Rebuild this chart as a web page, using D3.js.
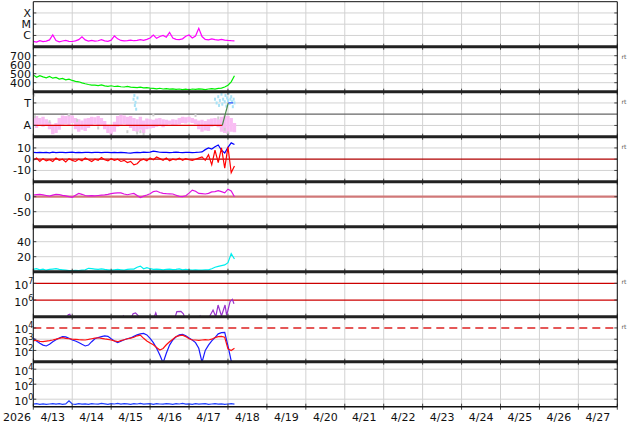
<!DOCTYPE html>
<html>
<head>
<meta charset="utf-8">
<style>
  body { margin: 0; background: #fff; }
  text { font-family: "DejaVu Sans", sans-serif; }
  .lbl { font-size: 11px; fill: #111; }
  .grid { stroke: #d2d2d2; stroke-width: 1; fill: none; }
  .sep { stroke: #222; stroke-width: 3; }
  .edge { stroke: #111; stroke-width: 1; }
  .tick { stroke: #444; stroke-width: 1; }
  .rt { font-size: 6px; fill: #555; }
  .series { fill: none; stroke-width: 1.2; }
</style>
</head>
<body>
<script src="https://cdn.jsdelivr.net/npm/d3@7"></script>
<script>
// samples every 2 h from 2026-04-13 00:00 UT
var startUT = Date.UTC(2026, 3, 13), stepH = 2;

// x-ray flux (W/m2)
var xray = [3.0e-7, 2.6e-7, 3.4e-7, 2.8e-7, 3.1e-7, 4.0e-7, 1.1e-6, 3.5e-7, 2.7e-7, 3.2e-7,
            3.6e-7, 3.0e-7, 2.9e-7, 3.3e-7, 4.2e-7, 7.5e-7, 4.0e-7, 3.2e-7, 3.6e-7, 3.1e-7,
            3.4e-7, 4.3e-7, 3.3e-7, 3.0e-7, 3.8e-7, 9.0e-7, 5.0e-7, 3.6e-7, 3.3e-7, 3.5e-7,
            3.9e-7, 3.4e-7, 3.6e-7, 4.2e-7, 3.7e-7, 4.5e-7, 6.0e-7, 1.1e-6, 5.5e-7, 8.0e-7,
            1.0e-6, 7.0e-7, 1.9e-6, 6.0e-7, 4.5e-7, 4.2e-7, 5.0e-7, 8.5e-7, 1.1e-6, 6.0e-7,
            9.0e-7, 4.3e-6, 8.0e-7, 4.5e-7, 4.0e-7, 5.0e-7, 4.2e-7, 3.8e-7, 4.4e-7, 3.9e-7,
            3.6e-7, 3.4e-7, 3.3e-7];

// solar wind speed (km/s)
var speed = [485, 460, 478, 465, 455, 470, 450, 458, 440, 448,
             432, 440, 425, 415, 410, 398, 388, 380, 374, 372,
             368, 376, 364, 360, 366, 358, 362, 355, 352, 358,
             350, 348, 345, 350, 342, 345, 340, 336, 332, 338,
             330, 334, 328, 332, 325, 330, 324, 328, 322, 330,
             326, 332, 328, 324, 330, 334, 328, 336, 340, 352,
             372, 410, 478];

// IMF phi angle spread (deg)
var phiLo = [85, 70, 95, 80, 90, 60, 20, 30, 55, 95,
             100, 85, 110, 60, 40, 55, 45, 70, 90, 100,
             85, 95, 60, 30, 15, 40, 80, 95, 100, 85,
             70, 45, 40, 55, 30, 60, 65, 70, 80, 85,
             75, 95, 100, 90, 95, 100, 110, 105, 115, 110,
             100, 60, 40, 50, 45, 80, 85, 75, 40, 30,
             20, 40, 35];
var phiHi = [155, 165, 150, 160, 140, 120, 95, 110, 150, 170,
             165, 175, 170, 150, 140, 130, 145, 150, 160, 155,
             165, 150, 125, 95, 90, 120, 165, 175, 170, 160,
             165, 150, 140, 160, 130, 145, 140, 135, 145, 150,
             140, 135, 130, 140, 135, 150, 160, 155, 160, 150,
             140, 130, 135, 125, 140, 145, 150, 140, 160, 170,
             165, 150, 110];
// toward-sector points (hours, deg)
var towardHours = [61.8, 62.3, 62.6, 63.0, 63.4, 64.2, 112, 113, 114, 114.5, 115, 116, 116.5, 117,
                   118, 118.5, 119, 119.5, 120, 120.5, 121, 121.5, 122, 122.5, 123, 123.5, 124];
var towardPhi = [300, 330, 250, 275, 220, 310, 300, 270, 320, 250, 290, 340, 260, 300,
                 280, 330, 245, 310, 290, 350, 265, 300, 320, 280, 240, 300, 270];
// flagged points
var flagHours = [0.5, 1, 10, 22, 27, 40, 58, 64, 66, 68, 74, 100, 114, 118, 120];
var flagPhi = [333, 160, 120, 175, 130, 70, 40, 30, 40, 20, 175, 170, 150, 60, 30];
// sector line
var sectorHours = [0, 116.5, 120.2, 123.2];
var sectorPhi = [90, 90, 270, 270];

// IMF Bt and Bz (nT)
var bt = [6.0, 5.8, 6.1, 5.9, 6.0, 5.7, 6.2, 5.9, 6.1, 6.0,
          5.8, 6.0, 6.2, 5.9, 6.0, 5.8, 6.1, 6.0, 5.9, 6.1,
          6.0, 5.8, 6.0, 6.1, 5.9, 6.0, 5.8, 6.0, 5.9, 5.6,
          5.4, 5.8, 6.0, 5.9, 6.2, 6.0, 6.3, 7.2, 6.8, 6.2,
          6.0, 6.1, 5.9, 6.0, 6.2, 6.0, 5.9, 6.1, 6.0, 5.9,
          6.0, 6.2, 6.5, 8.5, 10.0, 9.0, 11.0, 12.6, 8.0, 5.5,
          10.5, 14.5, 13.0];
var bz = [-1, 1, -2, 0.5, -1.5, -0.5, -2, 1, -1, 0,
          -2.5, 0.5, -1, -2, 0, -1.5, 1, -0.5, -2, 0,
          -1, 1.5, -0.5, -1.5, 0.5, -1, 0, -2, -1, -3,
          -2, -5, -4, -1, 0, -1.5, 1, -0.5, 2, 0.5,
          -1, 1, -1.5, 0, -0.5, 1, -1, 0.5, -0.5, -1,
          0, 1, 2, -1, 4, -5, 8, -3, 10, -8,
          11, -12, -6];

// Dst-like index (nT)
var dst = [5.7, 7, 8, 6, 4, 2, 5, 8, 7, 4.5,
           3, 0, -2, 5, 11, 8, 4, 3, 3.5, 3,
           4, 5, 6, 8, 10.5, 12, 13, 12.5, 9, 6.5,
           9, 11, 4, -3, 2, 5.5, 10, 17, 19, 14,
           11, 10, 9.5, 9, 5, 1, 0, 3, 12, 22,
           18, 11, 10, 9, 11, 16, 17, 20, 17, 13,
           25, 19, 0];

// density (p/cc)
var dens = [3, 4, 2.5, 3.5, 2, 3, 3.5, 4, 3, 2.5,
            2, 1.5, 1.5, 1.8, 1.5, 2, 2.5, 4.5, 4, 3.5,
            3, 3.8, 3, 2.5, 2, 2.5, 3, 2.5, 2, 3,
            3.5, 3.5, 6, 7.5, 4, 5.5, 4, 3, 3.5, 3,
            2.5, 3, 3.5, 2.8, 3, 3.8, 2.5, 3, 2.5, 2,
            2.5, 2, 2, 2.5, 2.5, 4, 6, 7, 8, 9,
            12, 24, 17];

// electron flux (own sample times, hours)
var elecHours = [0, 1.5, 4, 20, 21.5, 22.5, 24, 54, 55.5, 57, 60, 61.5, 63, 64.5, 66, 74, 75.5, 77,
                 87, 88.5, 91, 92.5, 94, 101.5, 102.8, 104, 108, 110.8, 112.5, 113.9, 116, 118.2,
                 119.2, 121.3, 122.7, 123.7];
var elecFlux = [1.1e5, 8e4, 5e4, 5e4, 1.3e5, 1.4e5, 6e4, 6e4, 1.1e5, 6e4, 7e4, 1.5e5, 1.7e5, 1.2e5, 6e4, 7e4, 1.7e5, 6e4,
                7e4, 2e5, 2.1e5, 1.5e5, 6e4, 7e4, 1.1e5, 6e4, 8e4, 2.5e5, 1e5, 5e5, 1.1e5, 5e5,
                1.2e5, 8e5, 1.1e6, 6e5];

// magnetometer red and blue series
var hpRed = [740, 800, 650, 600, 680, 750, 850, 1000, 1200, 1350,
             1200, 1100, 1000, 950, 900, 880, 850, 950, 1100, 1250,
             1350, 1200, 1050, 950, 850, 700, 600, 750, 900, 1100,
             1250, 1500, 2000, 2300, 1200, 700, 450, 320, 180, 110,
             150, 320, 600, 1000, 1700, 2100, 2300, 1700, 1100, 850,
             850, 800, 850, 900, 850, 1000, 1400, 1700, 1800, 1500,
             140, 100, 155];
var hpBlue = [1200, 700, 440, 300, 250, 350, 600, 900, 1300, 1700,
              1600, 1200, 850, 700, 500, 350, 250, 300, 600, 1100,
              1400, 1700, 2000, 1800, 1100, 700, 490, 650, 900, 1100,
              1300, 1800, 2400, 3000, 3300, 2400, 1200, 500, 155, 40,
              8, 56, 300, 850, 1600, 2400, 2700, 2000, 1300, 850,
              500, 155, 9, 100, 300, 700, 1400, 3000, 3800, 4000,
              260, 12, 7];

// proton flux
var proton = [0.22, 0.25, 0.21, 0.24, 0.2, 0.23, 0.26, 0.22, 0.25, 0.21,
              0.24, 0.6, 0.23, 0.2, 0.25, 0.22, 0.24, 0.21, 0.26, 0.23,
              0.22, 0.27, 0.24, 0.21, 0.25, 0.23, 0.28, 0.22, 0.26, 0.24,
              0.21, 0.25, 0.23, 0.27, 0.22, 0.24, 0.26, 0.21, 0.25, 0.23,
              0.22, 0.26, 0.24, 0.21, 0.25, 0.23, 0.27, 0.22, 0.24, 0.21,
              0.25, 0.22, 0.24, 0.26, 0.21, 0.23, 0.25, 0.22, 0.24, 0.21,
              0.23, 0.25, 0.22];

var dayLabels = ["4/13", "4/14", "4/15", "4/16", "4/17", "4/18", "4/19", "4/20",
                 "4/21", "4/22", "4/23", "4/24", "4/25", "4/26", "4/27"];

var W = 634, H = 424;
var x0 = 33.3, x1 = 617.3, plotTop = 1.7, ph = 45;

var svg = d3.select("body").append("svg")
    .attr("width", W)
    .attr("height", H);

var x = d3.scaleUtc()
    .domain([new Date(startUT), new Date(Date.UTC(2026, 3, 28))])
    .range([x0, x1]);

function hr(h) { return new Date(startUT + h * 3600e3); }
function idxTime(i) { return hr(i * stepH); }

// panel definitions
var panels = [
  {y: d3.scaleLog().domain([1e-7, 1e-3]), ticks: [[1e-4, "X"], [1e-5, "M"], [1e-6, "C"]], grid: [1e-6, 1e-5, 1e-4]},
  {y: d3.scaleLinear().domain([300, 800]), ticks: [[700, "700"], [600, "600"], [500, "500"], [400, "400"]], grid: [400, 500, 600, 700], rt: true},
  {y: d3.scaleLinear().domain([0, 360]), ticks: [[270, "T"], [90, "A"]], grid: [90, 270], rt: true},
  {y: d3.scaleLinear().domain([-20, 20]), ticks: [[10, "10"], [0, "0"], [-10, "-10"]], grid: [-10, 10], rt: true},
  {y: d3.scaleLinear().domain([-100, 50]), ticks: [[0, "0"], [-50, "-50"]], grid: [-50]},
  {y: d3.scaleLinear().domain([0, 60]), ticks: [[40, "40"], [20, "20"]], grid: [20, 40]},
  {y: d3.scaleLog().domain([1e5, Math.pow(10, 7.7)]), ticks: [[1e7, "7"], [1e6, "6"]], grid: [], sup: true, rt: true},
  {y: d3.scaleLog().domain([1e1, 1e5]), ticks: [[1e4, "4"], [1e3, "3"], [1e2, "2"]], grid: [1e2, 1e3], sup: true, rt: true},
  {y: d3.scaleLog().domain([1e-1, 1e5]), ticks: [[1e4, "4"], [1e2, "2"], [1e0, "0"]], grid: [1, 1e2, 1e4], sup: true}
];

var defs = svg.append("defs");
panels.forEach(function(p, k) {
  p.top = plotTop + k * ph;
  p.bot = p.top + ph;
  p.y.range([p.bot, p.top]);
  defs.append("clipPath").attr("id", "clip" + k)
    .append("rect").attr("x", x0).attr("y", p.top).attr("width", x1 - x0).attr("height", ph);
  p.g = svg.append("g").attr("clip-path", "url(#clip" + k + ")");
});

// vertical day grid
var days = x.ticks(d3.utcDay.every(1));
svg.insert("g", ":first-child").selectAll("line").data(days).enter().append("line")
  .attr("class", "grid")
  .attr("x1", function(d) { return x(d); }).attr("x2", function(d) { return x(d); })
  .attr("y1", plotTop).attr("y2", plotTop + 9 * ph);

// horizontal grid, labels, ticks
panels.forEach(function(p, k) {
  p.grid.forEach(function(v) {
    p.g.append("line").attr("class", "grid")
      .attr("x1", x0).attr("x2", x1).attr("y1", p.y(v)).attr("y2", p.y(v));
  });
  p.ticks.forEach(function(t) {
    var yy = p.y(t[0]);
    if (p.sup) {
      var tx = svg.append("text").attr("class", "lbl")
        .attr("x", x0).attr("y", yy + 5.5).attr("text-anchor", "end");
      tx.append("tspan").text("10");
      tx.append("tspan").attr("dy", -5).style("font-size", "8px").text(t[1]);
    } else {
      svg.append("text").attr("class", "lbl")
        .attr("x", 31).attr("y", yy + 4).attr("text-anchor", "end").text(t[1]);
    }
    svg.append("line").attr("class", "tick")
      .attr("x1", x0).attr("x2", x0 + 3).attr("y1", yy).attr("y2", yy);
    svg.append("line").attr("class", "tick")
      .attr("x1", x1 - 3).attr("x2", x1).attr("y1", yy).attr("y2", yy);
  });
  if (p.rt) {
    svg.append("text").attr("class", "rt")
      .attr("x", 621.5).attr("y", p.top + 12).text("rt");
  }
});

// reference lines
function hline(p, v, color, width, dash) {
  var l = p.g.append("line")
    .attr("x1", x0).attr("x2", x1).attr("y1", p.y(v)).attr("y2", p.y(v))
    .attr("stroke", color).attr("stroke-width", width);
  if (dash) l.attr("stroke-dasharray", dash);
}
hline(panels[2], 180, "#666", 1.2);
hline(panels[3], 0, "#b00000", 1.2);
hline(panels[4], 0, "#d07878", 2.2);
hline(panels[6], 1e7, "#cc0000", 1.2);
hline(panels[6], 1e6, "#cc0000", 1.2);
hline(panels[7], 1e4, "#dd2222", 1.5, "8,5");

function drawSeries(p, vals, color, width) {
  var line = d3.line()
    .x(function(d, i) { return x(idxTime(i)); })
    .y(function(d) { return p.y(d); });
  p.g.append("path").datum(vals)
    .attr("class", "series")
    .attr("stroke", color)
    .attr("stroke-width", width || 1.2)
    .attr("d", line);
}

// panel 1: x-ray
drawSeries(panels[0], xray, "#ff00ff", 1.1);
// panel 2: speed
drawSeries(panels[1], speed, "#00ee00", 1.5);

// panel 3: phi
var p3 = panels[2];
p3.g.append("g").selectAll("line").data(phiLo).enter().append("line")
  .attr("x1", function(d, i) { return x(idxTime(i)); })
  .attr("x2", function(d, i) { return x(idxTime(i)); })
  .attr("y1", function(d) { return p3.y(d); })
  .attr("y2", function(d, i) { return p3.y(phiHi[i]); })
  .attr("stroke", "#f9bdf3").attr("stroke-width", 3.4);
p3.g.append("g").selectAll("rect").data(flagHours).enter().append("rect")
  .attr("x", function(d) { return x(hr(d)) - 1; })
  .attr("y", function(d, i) { return p3.y(flagPhi[i]) - 1.5; })
  .attr("width", 2).attr("height", 3).attr("fill", "#cfcfcf");
p3.g.append("g").selectAll("rect").data(towardHours).enter().append("rect")
  .attr("x", function(d) { return x(hr(d)) - 1; })
  .attr("y", function(d, i) { return p3.y(towardPhi[i]) - 1.5; })
  .attr("width", 2).attr("height", 3).attr("fill", "#a8e2f6");
var sectorColors = ["#dd0000", "#4a8a4a", "#3355ff"];
for (var s = 0; s < sectorHours.length - 1; s++) {
  p3.g.append("line")
    .attr("x1", x(hr(sectorHours[s]))).attr("x2", x(hr(sectorHours[s + 1])))
    .attr("y1", p3.y(sectorPhi[s])).attr("y2", p3.y(sectorPhi[s + 1]))
    .attr("stroke", sectorColors[s]).attr("stroke-width", 1.2);
}

// panel 4: Bt, Bz
drawSeries(panels[3], bt, "#0000ff", 1.2);
drawSeries(panels[3], bz, "#ff0000", 1.3);
// panel 5: Dst
drawSeries(panels[4], dst, "#e010e0", 1.2);
// panel 6: density
drawSeries(panels[5], dens, "#00eeee", 1.5);

// panel 7: electrons
var p7 = panels[6];
p7.g.append("path").datum(elecHours)
  .attr("class", "series").attr("stroke", "#9933cc").attr("stroke-width", 1.2)
  .attr("d", d3.line()
    .x(function(d) { return x(hr(d)); })
    .y(function(d, i) { return p7.y(elecFlux[i]); }));

// panel 8
drawSeries(panels[7], hpBlue, "#1a1aff", 1.2);
drawSeries(panels[7], hpRed, "#ff1010", 1.3);
// panel 9
drawSeries(panels[8], proton, "#2040ff", 1.2);

// day ticks on separators
panels.forEach(function(p) {
  svg.append("g").selectAll("line").data(days).enter().append("line")
    .attr("class", "tick")
    .attr("x1", function(d) { return x(d); }).attr("x2", function(d) { return x(d); })
    .attr("y1", p.bot - 3).attr("y2", p.bot + 3);
});

// separators and frame
panels.slice(0, 8).forEach(function(p) {
  svg.append("line").attr("class", "sep")
    .attr("x1", x0).attr("x2", x1).attr("y1", p.bot).attr("y2", p.bot);
});
svg.append("line").attr("class", "edge").attr("x1", x0).attr("x2", x1).attr("y1", plotTop).attr("y2", plotTop);
svg.append("line").attr("class", "edge").attr("x1", x0).attr("x2", x1)
  .attr("y1", plotTop + 9 * ph).attr("y2", plotTop + 9 * ph).style("stroke-width", 1.6);
svg.append("line").attr("class", "edge").attr("x1", x0).attr("x2", x0).attr("y1", plotTop).attr("y2", plotTop + 9 * ph);
svg.append("line").attr("class", "edge").attr("x1", x1).attr("x2", x1).attr("y1", plotTop).attr("y2", plotTop + 9 * ph);

// x labels
svg.append("text").attr("class", "lbl").attr("x", 31).attr("y", 420.5)
  .attr("text-anchor", "end").text("2026");
svg.append("g").selectAll("text").data(dayLabels).enter().append("text")
  .attr("class", "lbl")
  .attr("x", function(d, i) { return x(d3.utcHour.offset(days[i], 12)); })
  .attr("y", 420.5)
  .attr("text-anchor", "middle")
  .text(function(d) { return d; });
</script>
</body>
</html>
